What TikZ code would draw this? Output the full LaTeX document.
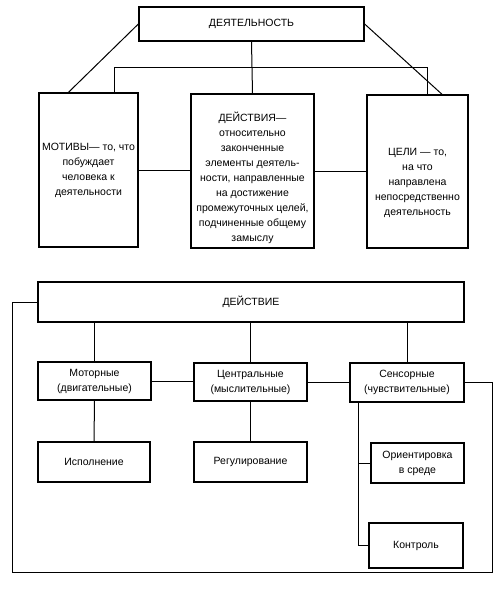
\documentclass[tikz,border=0pt]{standalone}
\usepackage{fontspec}
\setmainfont{Liberation Sans}
\usetikzlibrary{calc}

\begin{document}
\begin{tikzpicture}[
        x=1pt, y=-1pt,
        blok/.style={draw=black, line width=1.3pt, align=center, inner sep=1pt,
                     font=\fontsize{10.5}{15}\selectfont},
        svyaz/.style={draw=black, line width=1pt}
    ]
        \useasboundingbox (0,0) rectangle (502,589);

        % Деятельность
        \node[blok, minimum width=225pt, minimum height=34pt] (deyat) at (251.5,24) {ДЕЯТЕЛЬНОСТЬ};
        \node[blok, minimum width=99pt, minimum height=154pt] (motivy) at (88.5,170)
            {МОТИВЫ— то, что\\побуждает\\человека к\\деятельности};
        \node[blok, minimum width=123pt, minimum height=154pt] (deystviya) at (252.5,171)
            {\rule{0pt}{24pt}ДЕЙСТВИЯ—\\относительно\\законченные\\элементы деятель-\\ности, направленные\\на достижение\\промежуточных целей,\\подчиненные общему\\замыслу};
        \node[blok, minimum width=101pt, minimum height=153pt] (celi) at (417.5,171.5)
            {\rule{0pt}{30pt}ЦЕЛИ — то,\\на что\\направлена\\непосредственно\\деятельность};

        % Связи
        \draw[svyaz] (deyat.west) -- ($(motivy.north west)!0.3!(motivy.north east)$);
        \draw[svyaz] (deyat.east) -- ($(celi.north west)!0.74!(celi.north east)$);
        \draw[svyaz] (deyat.south) -- (deystviya.north);
        \draw[svyaz] ($(motivy.north west)!0.76!(motivy.north east)$) -- ++(0,-25)
            -| ($(celi.north west)!0.6!(celi.north east)$);
        \draw[svyaz] (motivy.east) -- (motivy.east -| deystviya.west);
        \draw[svyaz] (deystviya.east) -- (deystviya.east -| celi.west);

        % Действие
        \node[blok, minimum width=426pt, minimum height=40pt] (deystvie) at (251,302) {ДЕЙСТВИЕ};
        \node[blok, minimum width=113pt, minimum height=38pt] (motor) at (94.5,381) {Моторные\\(двигательные)};
        \node[blok, minimum width=113pt, minimum height=38pt] (central) at (250.5,382) {Центральные\\(мыслительные)};
        \node[blok, minimum width=114pt, minimum height=39pt] (sensor) at (407,382.5) {Сенсорные\\(чувствительные)};
        \node[blok, minimum width=112pt, minimum height=40pt] (ispoln) at (94,462) {Исполнение};
        \node[blok, minimum width=113pt, minimum height=40pt] (regul) at (250.5,462) {Регулирование};
        \node[blok, minimum width=93pt, minimum height=40pt] (orient) at (417.5,463) {Ориентировка\\в среде};
        \node[blok, minimum width=94pt, minimum height=45pt] (kontrol) at (416,545.5) {Контроль};

        \coordinate (petlyaL) at (12,572);
        \coordinate (petlyaR) at (492,572);

        % Связи
        \draw[svyaz] (motor.north |- deystvie.south) -- (motor.north);
        \draw[svyaz] (central.north |- deystvie.south) -- (central.north);
        \draw[svyaz] (sensor.north |- deystvie.south) -- (sensor.north);
        \draw[svyaz] (motor.east) -- (motor.east -| central.west);
        \draw[svyaz] (central.east) -- (central.east -| sensor.west);
        \draw[svyaz] (motor.south) -- (ispoln.north);
        \draw[svyaz] (central.south) -- (regul.north);
        \draw[svyaz] ([xshift=9pt]sensor.south west) |- (kontrol.west);
        \draw[svyaz] ([xshift=9pt]sensor.south west |- orient.west) -- (orient.west);
        \draw[svyaz] (deystvie.west) -| (petlyaL) -- (petlyaR) |- (sensor.east);
    \end{tikzpicture}
\end{document}
